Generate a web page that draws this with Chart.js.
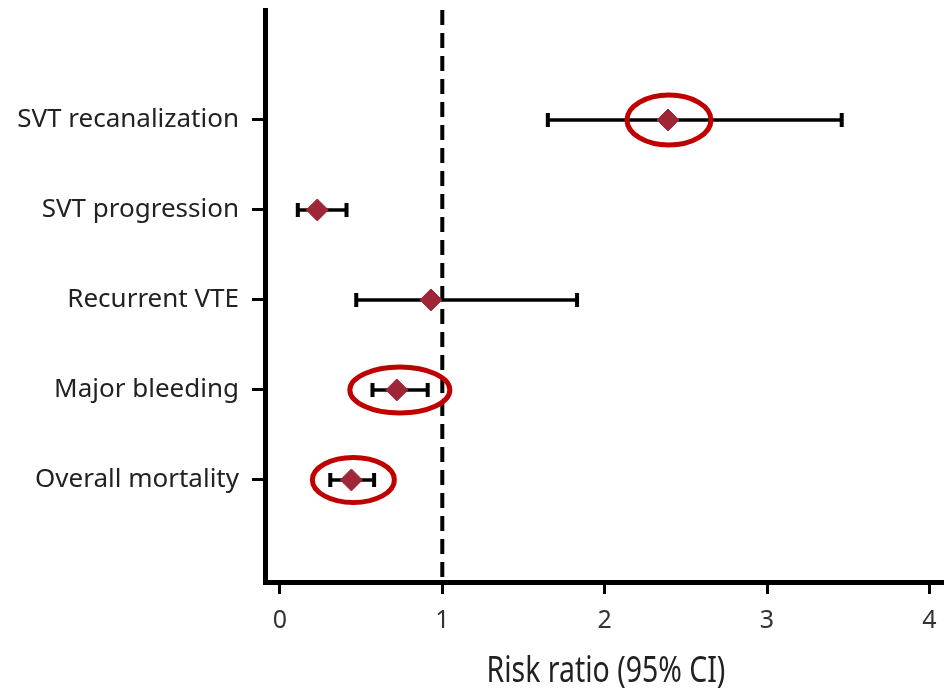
<!DOCTYPE html>
<html>
<head>
<meta charset="utf-8">
<script src="https://cdn.jsdelivr.net/npm/chart.js@4/dist/chart.umd.min.js"></script>
<style>
  html, body { margin: 0; padding: 0; background: #fff; }
  #wrap { width: 944px; height: 690px; }
</style>
</head>
<body>
<div id="wrap"><canvas id="c" width="944" height="690"></canvas></div>
<script>
// ---- data ----
const categories = ["SVT recanalization", "SVT progression", "Recurrent VTE", "Major bleeding", "Overall mortality"];
const riskRatio  = [2.39, 0.23, 0.93, 0.72, 0.44];
const ciLower    = [1.65, 0.11, 0.47, 0.57, 0.31];
const ciUpper    = [3.46, 0.41, 1.83, 0.91, 0.58];
const highlighted = [true, false, false, true, true];
const xTickValues = [0, 1, 2, 3, 4];
const referenceValue = 1;
const xTitle = "Risk ratio (95% CI)";

// ---- styles ----
const ellipseStyle = { rx: [42, 0, 0, 50, 41], ry: [25, 0, 0, 23, 22.5], dx: [1, 0, 0, 3, 2], color: "#c00000", width: 5 };
const pointColor = "#9e2637";

const points = riskRatio.map((v, i) => ({ x: v, y: i }));

const forestPlugin = {
  id: "forest",
  beforeDatasetsDraw(chart) {
    const { ctx, scales: { x, y }, chartArea } = chart;
    ctx.save();
    // reference dashed line
    const rx = x.getPixelForValue(referenceValue);
    ctx.strokeStyle = "#000";
    ctx.lineWidth = 4;
    ctx.setLineDash([15, 8]);
    ctx.beginPath();
    ctx.moveTo(rx, chartArea.top);
    ctx.lineTo(rx, chartArea.bottom);
    ctx.stroke();
    ctx.setLineDash([]);
    // CI bars
    categories.forEach((c, i) => {
      const py = y.getPixelForValue(i);
      const x1 = x.getPixelForValue(ciLower[i]);
      const x2 = x.getPixelForValue(ciUpper[i]);
      ctx.lineWidth = 3.5;
      ctx.beginPath();
      ctx.moveTo(x1, py); ctx.lineTo(x2, py);
      ctx.stroke();
      ctx.lineWidth = 4;
      ctx.beginPath();
      ctx.moveTo(x1, py - 7); ctx.lineTo(x1, py + 7);
      ctx.moveTo(x2, py - 7); ctx.lineTo(x2, py + 7);
      ctx.stroke();
    });
    ctx.restore();
  },
  afterDatasetsDraw(chart) {
    const { ctx, scales: { x, y } } = chart;
    ctx.save();
    ctx.strokeStyle = ellipseStyle.color;
    ctx.lineWidth = ellipseStyle.width;
    categories.forEach((c, i) => {
      if (!highlighted[i]) return;
      const px = x.getPixelForValue(riskRatio[i]) + ellipseStyle.dx[i];
      const py = y.getPixelForValue(i);
      ctx.beginPath();
      ctx.ellipse(px, py, ellipseStyle.rx[i], ellipseStyle.ry[i], 0, 0, Math.PI * 2);
      ctx.stroke();
    });
    ctx.restore();
  },
  afterDraw(chart) {
    const { ctx } = chart;
    ctx.save();
    ctx.fillStyle = "#222";
    ctx.font = "36px 'Noto Sans', sans-serif";
    ctx.textAlign = "center";
    ctx.textBaseline = "alphabetic";
    ctx.translate(606, 682);
    ctx.scale(0.79, 1);
    ctx.fillText(xTitle, 0, 0);
    ctx.restore();
  }
};

new Chart(document.getElementById("c"), {
  type: "scatter",
  data: {
    datasets: [{
      data: points,
      pointStyle: "rectRot",
      pointRadius: 11,
      pointHoverRadius: 11,
      backgroundColor: pointColor,
      borderColor: pointColor,
      borderWidth: 1
    }]
  },
  options: {
    responsive: false,
    animation: false,
    events: [],
    layout: { autoPadding: false, padding: { top: 10, right: 0, left: 0, bottom: 0 } },
    plugins: { legend: { display: false }, tooltip: { enabled: false } },
    scales: {
      x: {
        type: "linear",
        min: -0.092,
        max: 4.09,
        afterBuildTicks(scale) { scale.ticks = xTickValues.map(v => ({ value: v })); },
        afterFit(scale) { scale.height = 108; scale.paddingLeft = 0; scale.paddingRight = 0; },
        border: { display: true, color: "#000", width: 5 },
        grid: { display: true, drawOnChartArea: false, drawTicks: true, tickLength: 12, tickWidth: 3, tickColor: "#000" },
        ticks: {
          color: "#333",
          padding: 12,
          font: { family: "'Noto Sans', sans-serif", size: 25 },
          callback: v => String(v)
        },
        title: { display: false }
      },
      y: {
        type: "linear",
        reverse: true,
        min: -1.222,
        max: 5.134,
        afterBuildTicks(scale) { scale.ticks = categories.map((c, i) => ({ value: i })); },
        afterFit(scale) { scale.width = 265; scale.paddingTop = 0; scale.paddingBottom = 0; },
        border: { display: true, color: "#000", width: 5 },
        grid: { display: true, drawOnChartArea: false, drawTicks: true, tickLength: 13, tickWidth: 3, tickColor: "#000" },
        ticks: {
          color: "#222",
          padding: 13,
          font: { family: "'Noto Sans', sans-serif", size: 26 },
          callback: v => categories[v]
        }
      }
    }
  },
  plugins: [forestPlugin]
});
</script>
</body>
</html>
